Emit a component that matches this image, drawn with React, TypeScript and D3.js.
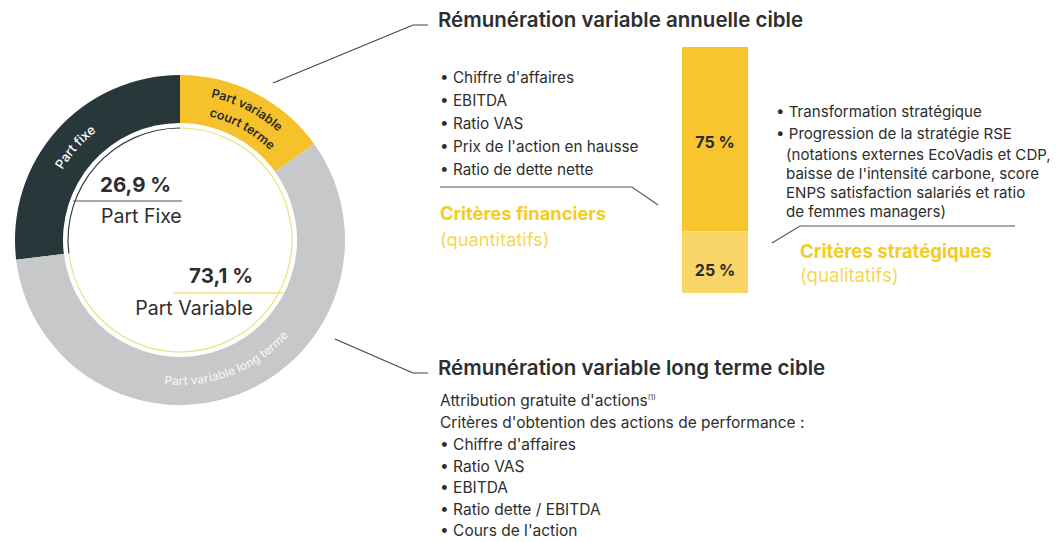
import React from "react";
import * as d3 from "d3";

// ---------- data ----------
const donutLabels = ["Part fixe", "Part variable court terme", "Part variable long terme"];
const donutValues = [26.9, 15.1, 58.0];
const donutColors = ["#27373a", "#f5c22c", "#c7c8ca"];

const fixedPct = "26,9 %";
const fixedLabel = "Part Fixe";
const variablePct = "73,1 %";
const variableLabel = "Part Variable";

const annualTitle = "Rémunération variable annuelle cible";
const financialItems = ["Chiffre d'affaires", "EBITDA", "Ratio VAS", "Prix de l'action en hausse", "Ratio de dette nette"];
const financialTitle = ["Critères financiers", "(quantitatifs)"];
const barLabels = ["75 %", "25 %"];
const barValues = [75, 25];
const barColors = ["#f7c52e", "#f9d466"];
const strategicItems = [
  ["Transformation stratégique"],
  ["Progression de la stratégie RSE", "(notations externes EcoVadis et CDP,", "baisse de l'intensité carbone, score", "ENPS satisfaction salariés et ratio", "de femmes managers)"],
];
const strategicTitle = ["Critères stratégiques", "(qualitatifs)"];

const longTitle = "Rémunération variable long terme cible";
const longIntro = ["Attribution gratuite d'actions", "Critères d'obtention des actions de performance :"];
const longItems = ["Chiffre d'affaires", "Ratio VAS", "EBITDA", "Ratio dette / EBITDA", "Cours de l'action"];

// ---------- layout ----------
const W = 1061, H = 542;
const cx = 180, cy = 240, R = 165, r0 = 117, rThin = 112;
const FONT = "Inter, 'Noto Sans', sans-serif";
const TXT = "#2e2e2e";
const YEL = "#f4cc22";

const deg = (d: number) => (d * Math.PI) / 180;
const pt = (a: number, r: number) => [cx + r * Math.sin(a), cy - r * Math.cos(a)];
function arcPath(a0: number, a1: number, r: number) {
  const p0 = pt(a0, r), p1 = pt(a1, r);
  const sweep = a1 > a0 ? 1 : 0;
  const large = Math.abs(a1 - a0) > Math.PI ? 1 : 0;
  return `M${p0[0]},${p0[1]} A${r},${r} 0 ${large} ${sweep} ${p1[0]},${p1[1]}`;
}

export default function App() {
  const total = d3.sum(donutValues);
  const start = -2 * Math.PI * (donutValues[0] / total);
  const pie = d3.pie<number>().sort(null).value((d) => d).startAngle(start).endAngle(start + 2 * Math.PI);
  const arcs = pie(donutValues);
  const arc = d3.arc<d3.PieArcDatum<number>>().innerRadius(r0).outerRadius(R);
  const thin = d3.arc<d3.PieArcDatum<number>>().innerRadius(rThin - 0.6).outerRadius(rThin + 0.6);

  // bar
  const barX = 682, barW = 66;
  const y = d3.scaleLinear().domain([0, d3.sum(barValues)]).range([47, 293]);
  const stack = barValues.map((v, i) => ({ v, y0: d3.sum(barValues.slice(0, i)), y1: d3.sum(barValues.slice(0, i + 1)) }));

  const fixedArc = arcs[0];
  const courtArc = arcs[1];
  const longArc = arcs[2];
  const mid = (a: d3.PieArcDatum<number>) => (a.startAngle + a.endAngle) / 2;

  return (
    <svg width={W} height={H} style={{ position: "absolute", left: 0, top: 0, background: "#fff" }} fontFamily={FONT}>
      <defs>
        <path id="tp-fixe" d={arcPath(mid(fixedArc) - deg(35), mid(fixedArc) + deg(35), 137)} />
        <path id="tp-court1" d={arcPath(mid(courtArc) - deg(35), mid(courtArc) + deg(35), 146)} />
        <path id="tp-court2" d={arcPath(mid(courtArc) - deg(35) + deg(2), mid(courtArc) + deg(35) + deg(2), 127)} />
        <path id="tp-long" d={arcPath(mid(longArc) + deg(50), mid(longArc) - deg(50), 145)} />
        <filter id="soft"><feGaussianBlur stdDeviation="0.6" /></filter>
      </defs>

      {/* donut */}
      {arcs.map((a, i) => (
        <path key={i} d={arc(a) || ""} fill={donutColors[i]} transform={`translate(${cx},${cy})`} />
      ))}
      {arcs.map((a, i) => (
        <path key={"t" + i} d={thin(a) || ""} fill={i === 0 ? "#3a4042" : "#ece27c"} transform={`translate(${cx},${cy})`} />
      ))}
      <text fontSize={13} fill="#ffffff" fontWeight={500}>
        <textPath href="#tp-fixe" startOffset="50%" textAnchor="middle">{donutLabels[0]}</textPath>
      </text>
      <text fontSize={12.5} fill="#2a2a2a" fontWeight={600}>
        <textPath href="#tp-court1" startOffset="50%" textAnchor="middle">Part variable</textPath>
        <textPath href="#tp-court2" startOffset="50%" textAnchor="middle">court terme</textPath>
      </text>
      <text fontSize={12} fill="#ffffff" fillOpacity={0.7} fontWeight={600} filter="url(#soft)">
        <textPath href="#tp-long" startOffset="50%" textAnchor="middle">{donutLabels[2]}</textPath>
      </text>

      {/* center labels */}
      <text x={100} y={192} fontSize={20.5} fontWeight={700} fill={TXT}>{fixedPct}</text>
      <line x1={73} x2={182} y1={201} y2={201} stroke="#555" strokeWidth={1.2} />
      <text x={101} y={223} fontSize={19.5} fill={TXT}>{fixedLabel}</text>
      <text x={253} y={283} fontSize={20.5} fontWeight={700} fill={TXT} textAnchor="end">{variablePct}</text>
      <line x1={173} x2={283} y1={293} y2={293} stroke="#f2d04a" strokeWidth={1.2} />
      <text x={253} y={315} fontSize={19.5} fill={TXT} textAnchor="end">{variableLabel}</text>

      {/* leader lines */}
      <polyline points="273,83 413,25 428,25" fill="none" stroke="#444" strokeWidth={1.2} />
      <polyline points="335,339 413,373 428,373" fill="none" stroke="#444" strokeWidth={1.2} />

      {/* annual */}
      <text x={438} y={27} fontSize={20.5} fontWeight={600} fill={TXT}>{annualTitle}</text>
      {financialItems.map((t, i) => (
        <text key={t} x={440} y={83 + i * 23} fontSize={15.3} fill={TXT}>• {t}</text>
      ))}
      <polyline points="440,187 632,187 658,205" fill="none" stroke="#555" strokeWidth={1.1} />
      <text x={440} y={220} fontSize={18.3} fontWeight={700} fill={YEL}>{financialTitle[0]}</text>
      <text x={440} y={246} fontSize={18.3} fill={YEL} fillOpacity={0.8}>{financialTitle[1]}</text>

      {stack.map((s, i) => (
        <rect key={i} x={barX} y={y(s.y0)} width={barW} height={y(s.y1) - y(s.y0)} fill={barColors[i]} />
      ))}
      {stack.map((s, i) => (
        <text key={"l" + i} x={barX + barW / 2} y={i === 0 ? 148 : 276} fontSize={16} fontWeight={700} fill="#2a2a2a" textAnchor="middle">{barLabels[i]}</text>
      ))}

      {(() => {
        const lines: React.ReactNode[] = [];
        let yy = 117;
        strategicItems.forEach((item, i) => {
          item.forEach((t, j) => {
            lines.push(
              <text key={i + "-" + j} x={j === 0 ? 776 : 786} y={yy} fontSize={15.1} fill={TXT}>{j === 0 ? "• " + t : t}</text>
            );
            yy += j === 0 ? 21 : 19;
          });
          if (i === 0) yy += 1;
        });
        return lines;
      })()}
      <polyline points="772,243 800,226 1015,226" fill="none" stroke="#555" strokeWidth={1.1} />
      <text x={800} y={258} fontSize={18.6} fontWeight={700} fill={YEL}>{strategicTitle[0]}</text>
      <text x={800} y={282} fontSize={18.6} fill={YEL} fillOpacity={0.8}>{strategicTitle[1]}</text>

      {/* long term */}
      <text x={438} y={375} fontSize={20.5} fontWeight={600} fill={TXT}>{longTitle}</text>
      <text x={440} y={406} fontSize={15.5} fill={TXT}>{longIntro[0]}<tspan fontSize={7} dy={-6}>(1)</tspan></text>
      <text x={440} y={428} fontSize={15.5} fill={TXT}>{longIntro[1]}</text>
      {longItems.map((t, i) => (
        <text key={t} x={440} y={450 + i * 21.5} fontSize={15.5} fill={TXT}>• {t}</text>
      ))}
    </svg>
  );
}
